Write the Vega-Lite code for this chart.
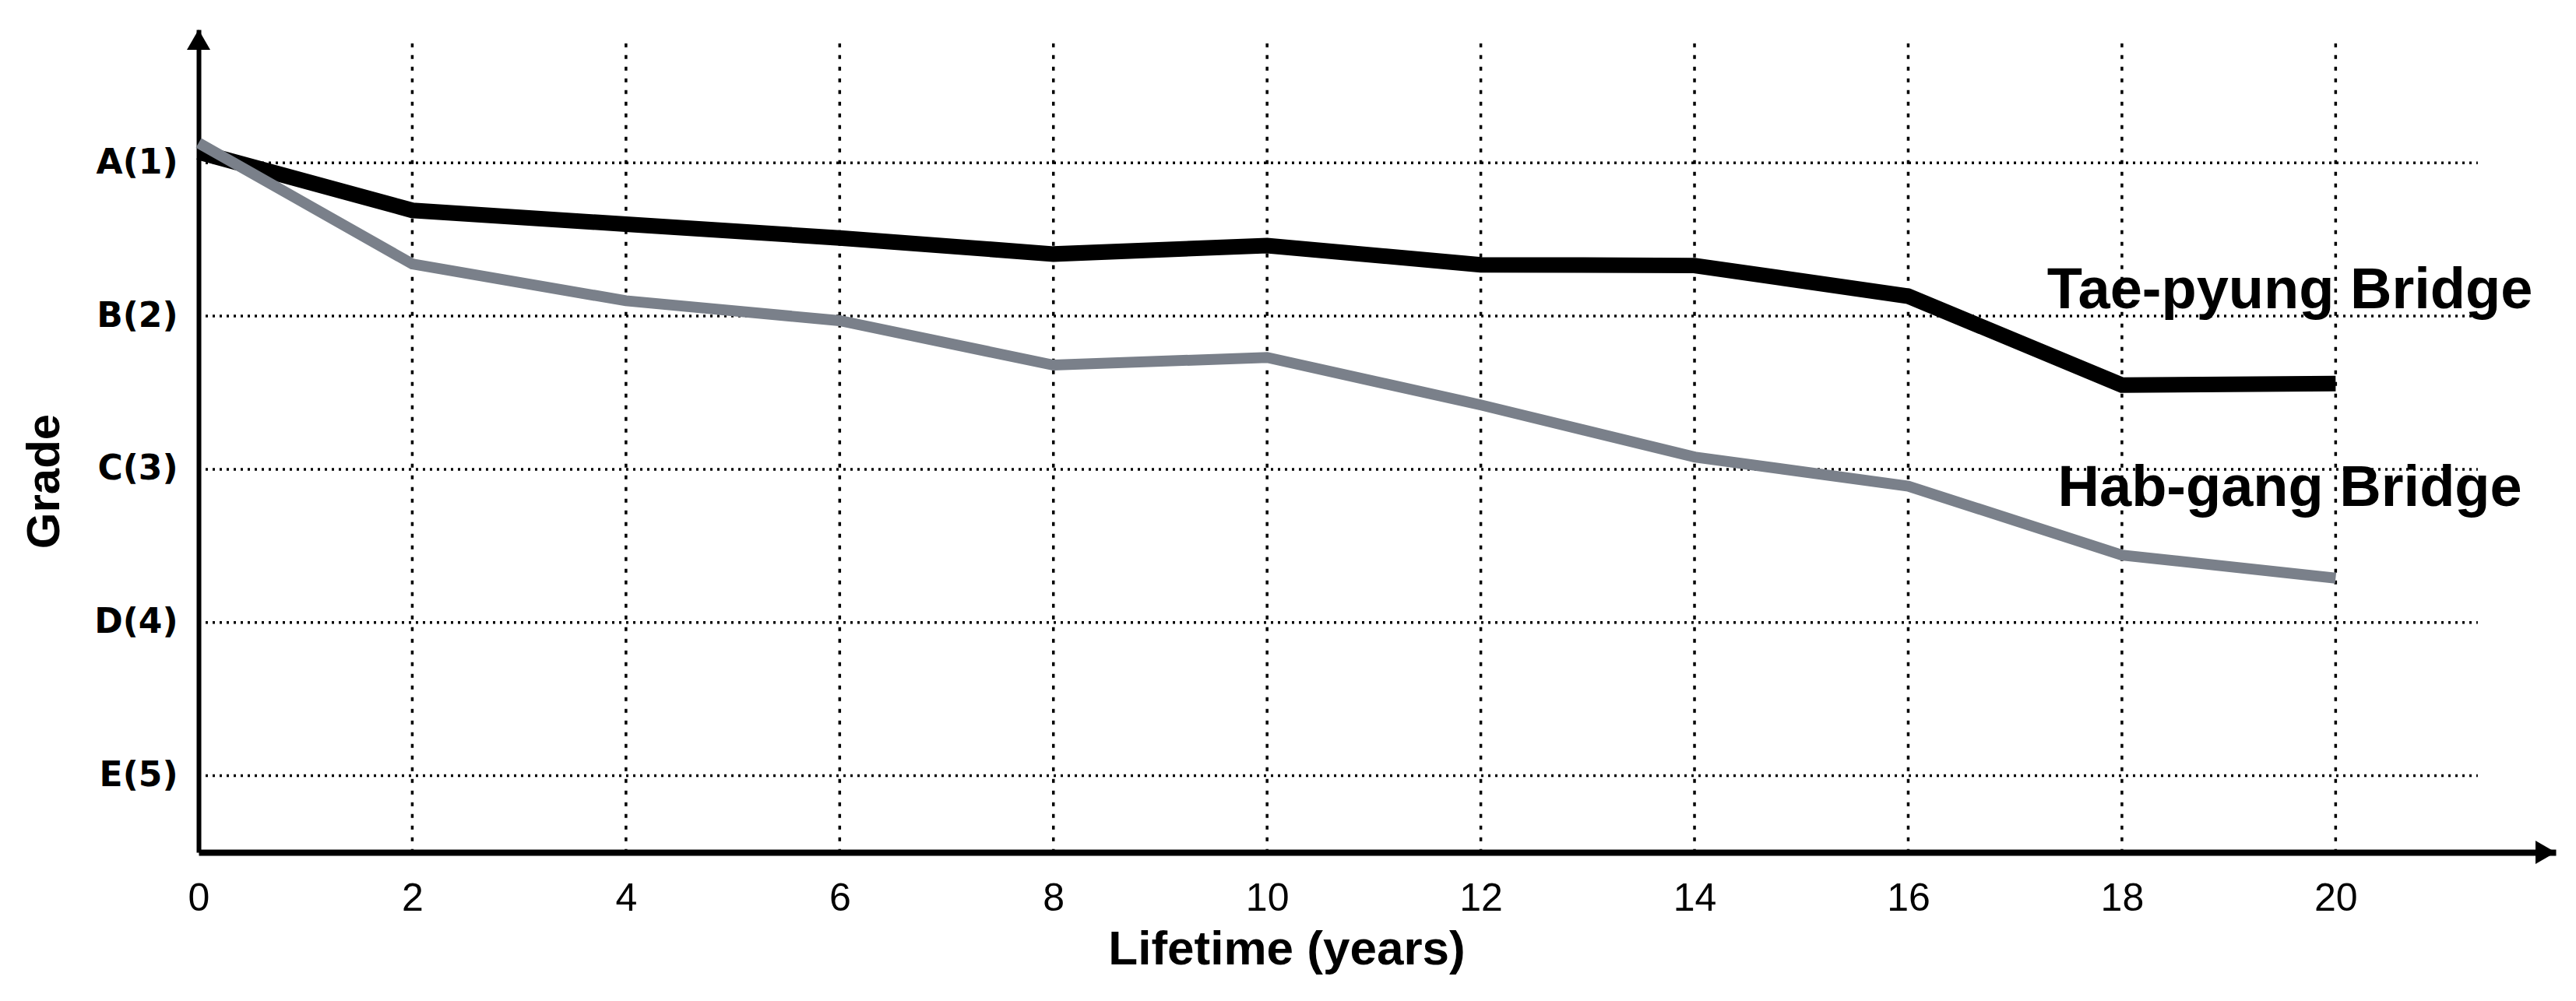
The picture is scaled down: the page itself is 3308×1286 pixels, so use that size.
{
  "$schema": "https://vega.github.io/schema/vega-lite/v6.json",
  "width": 3027,
  "height": 1057,
  "autosize": "none",
  "padding": {"left": 255, "top": 38, "right": 26, "bottom": 191},
  "background": "white",
  "config": {"view": {"stroke": null}},
  "datasets": {
    "hgrid": [
      {"grade": 1, "year": 0, "year2": 21.33},
      {"grade": 2, "year": 0, "year2": 21.33},
      {"grade": 3, "year": 0, "year2": 21.33},
      {"grade": 4, "year": 0, "year2": 21.33},
      {"grade": 5, "year": 0, "year2": 21.33}
    ],
    "vgrid": [
      {"year": 2, "grade": 0.22, "grade2": 5.5},
      {"year": 4, "grade": 0.22, "grade2": 5.5},
      {"year": 6, "grade": 0.22, "grade2": 5.5},
      {"year": 8, "grade": 0.22, "grade2": 5.5},
      {"year": 10, "grade": 0.22, "grade2": 5.5},
      {"year": 12, "grade": 0.22, "grade2": 5.5},
      {"year": 14, "grade": 0.22, "grade2": 5.5},
      {"year": 16, "grade": 0.22, "grade2": 5.5},
      {"year": 18, "grade": 0.22, "grade2": 5.5},
      {"year": 20, "grade": 0.22, "grade2": 5.5}
    ],
    "series": [
      {"bridge": "Tae-pyung Bridge", "year": 0, "grade": 0.93},
      {"bridge": "Tae-pyung Bridge", "year": 2, "grade": 1.31},
      {"bridge": "Tae-pyung Bridge", "year": 4, "grade": 1.40},
      {"bridge": "Tae-pyung Bridge", "year": 6, "grade": 1.49},
      {"bridge": "Tae-pyung Bridge", "year": 8, "grade": 1.595},
      {"bridge": "Tae-pyung Bridge", "year": 10, "grade": 1.54},
      {"bridge": "Tae-pyung Bridge", "year": 12, "grade": 1.665},
      {"bridge": "Tae-pyung Bridge", "year": 14, "grade": 1.67},
      {"bridge": "Tae-pyung Bridge", "year": 16, "grade": 1.87},
      {"bridge": "Tae-pyung Bridge", "year": 18, "grade": 2.45},
      {"bridge": "Tae-pyung Bridge", "year": 20, "grade": 2.44},
      {"bridge": "Hab-gang Bridge", "year": 0, "grade": 0.87},
      {"bridge": "Hab-gang Bridge", "year": 2, "grade": 1.66},
      {"bridge": "Hab-gang Bridge", "year": 4, "grade": 1.90},
      {"bridge": "Hab-gang Bridge", "year": 6, "grade": 2.03},
      {"bridge": "Hab-gang Bridge", "year": 8, "grade": 2.32},
      {"bridge": "Hab-gang Bridge", "year": 10, "grade": 2.27},
      {"bridge": "Hab-gang Bridge", "year": 12, "grade": 2.58},
      {"bridge": "Hab-gang Bridge", "year": 14, "grade": 2.92},
      {"bridge": "Hab-gang Bridge", "year": 16, "grade": 3.11},
      {"bridge": "Hab-gang Bridge", "year": 18, "grade": 3.56},
      {"bridge": "Hab-gang Bridge", "year": 20, "grade": 3.71}
    ],
    "labels": [
      {"label": "Tae-pyung Bridge", "year": 17.3, "grade": 1.95},
      {"label": "Hab-gang Bridge", "year": 17.4, "grade": 3.24}
    ],
    "arrows": [
      {"dir": "up", "year": 0, "grade": 0.196},
      {"dir": "right", "year": 21.965, "grade": 5.5}
    ]
  },
  "layer": [
    {
      "data": {"name": "hgrid"},
      "mark": {"type": "rule", "color": "black", "strokeWidth": 3.5, "strokeDash": [3, 6]},
      "encoding": {
        "x": {
          "field": "year", "type": "quantitative",
          "scale": {"domain": [0, 22.06], "nice": false, "zero": false},
          "axis": {
            "title": "Lifetime (years)",
            "values": [0, 2, 4, 6, 8, 10, 12, 14, 16, 18, 20],
            "format": "d",
            "grid": false, "ticks": false, "tickSize": 0,
            "domainColor": "black", "domainWidth": 8,
            "labelFont": "Liberation Sans", "labelFontSize": 50, "labelColor": "black",
            "labelPadding": 34, "labelFlush": false,
            "titleFont": "Liberation Sans", "titleFontSize": 62, "titleFontWeight": "bold", "titleColor": "black",
            "titlePadding": 10, "titleX": 1397
          }
        },
        "x2": {"field": "year2"},
        "y": {
          "field": "grade", "type": "quantitative",
          "scale": {"domain": [0.13, 5.5], "reverse": true, "nice": false, "zero": false},
          "axis": {
            "title": "Grade",
            "values": [1, 2, 3, 4, 5],
            "labelExpr": "['','A','B','C','D','E'][datum.value] + '(' + datum.value + ')'",
            "grid": false, "ticks": false, "tickSize": 0,
            "domainColor": "black", "domainWidth": 6,
            "labelFont": "DejaVu Sans", "labelFontSize": 44, "labelFontWeight": "bold", "labelColor": "black",
            "labelPadding": 27, "labelFlush": false,
            "titleFont": "Liberation Sans", "titleFontSize": 60, "titleFontWeight": "bold", "titleColor": "black",
            "titlePadding": 32, "titleY": 580
          }
        }
      }
    },
    {
      "data": {"name": "vgrid"},
      "mark": {"type": "rule", "color": "black", "strokeWidth": 3.5, "strokeDash": [5, 10]},
      "encoding": {
        "x": {"field": "year", "type": "quantitative"},
        "y": {"field": "grade", "type": "quantitative"},
        "y2": {"field": "grade2"}
      }
    },
    {
      "data": {"name": "series"},
      "mark": {"type": "line", "strokeCap": "butt", "strokeJoin": "miter", "clip": false},
      "encoding": {
        "x": {"field": "year", "type": "quantitative"},
        "y": {"field": "grade", "type": "quantitative"},
        "color": {"field": "bridge", "type": "nominal", "scale": {"domain": ["Tae-pyung Bridge", "Hab-gang Bridge"], "range": ["#000000", "#7a808a"]}, "legend": null},
        "strokeWidth": {"field": "bridge", "type": "nominal", "scale": {"domain": ["Tae-pyung Bridge", "Hab-gang Bridge"], "range": [20, 14]}, "legend": null},
        "order": {"field": "year", "type": "quantitative"}
      }
    },
    {
      "data": {"name": "labels"},
      "mark": {"type": "text", "font": "Liberation Sans", "fontSize": 74, "fontWeight": "bold", "color": "black", "align": "left", "baseline": "alphabetic", "clip": false},
      "encoding": {
        "x": {"field": "year", "type": "quantitative"},
        "y": {"field": "grade", "type": "quantitative"},
        "text": {"field": "label"}
      }
    },
    {
      "data": {"name": "arrows"},
      "mark": {"type": "point", "filled": true, "color": "black", "opacity": 1, "size": 900, "clip": false},
      "encoding": {
        "x": {"field": "year", "type": "quantitative"},
        "y": {"field": "grade", "type": "quantitative"},
        "shape": {"field": "dir", "type": "nominal", "scale": {"domain": ["up", "right"], "range": ["triangle-up", "triangle-right"]}, "legend": null}
      }
    }
  ]
}
